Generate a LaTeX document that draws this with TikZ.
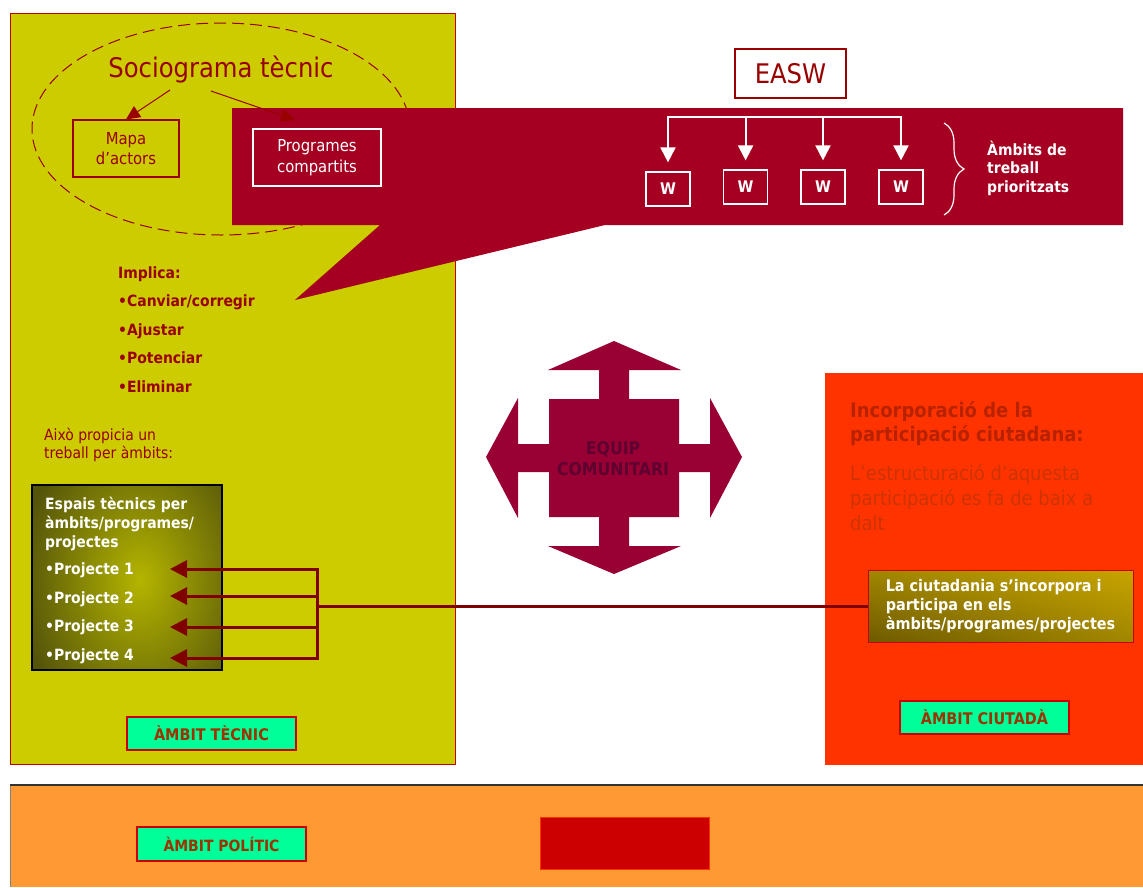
\documentclass[tikz,border=0pt]{standalone}
\usepackage{fontspec}
\setmainfont{DejaVu Sans Condensed}[BoldFont={DejaVu Sans Condensed Bold}]
\usetikzlibrary{arrows.meta,decorations.pathreplacing,shadings}

\definecolor{techyellow}{HTML}{CCCC00}
\definecolor{panelrim}{HTML}{C00000}
\definecolor{wine}{HTML}{A50021}
\definecolor{darkred}{HTML}{990000}
\definecolor{crossred}{HTML}{990033}
\definecolor{crosstext}{HTML}{5E0030}
\definecolor{civicred}{HTML}{FF3300}
\definecolor{civicbold}{HTML}{B82200}
\definecolor{civictext}{HTML}{CC3300}
\definecolor{politicorange}{HTML}{FF9933}
\definecolor{taggreen}{HTML}{00FF99}
\definecolor{tagtext}{HTML}{9C3300}
\definecolor{linkred}{HTML}{800000}
\definecolor{olivedark}{HTML}{55550A}
\definecolor{olivelight}{HTML}{B4B400}
\definecolor{blockred}{HTML}{CC0000}
\definecolor{goldlight}{HTML}{C8A400}
\definecolor{goldmid}{HTML}{A08600}
\definecolor{golddark}{HTML}{6E5A00}

\tikzset{
  txt/.style={inner sep=0pt, align=left, anchor=west},
  framebox/.style={draw=#1, line width=1.2pt, inner sep=0pt, align=center},
  tagbox/.style={draw=blockred, line width=1.5pt, fill=taggreen, text=tagtext,
    font=\bfseries\fontsize{16}{19}\selectfont, minimum width=169pt,
    minimum height=33pt, inner sep=0pt},
  wbox/.style={framebox=white, text=white, font=\bfseries\fontsize{16}{18}\selectfont,
    minimum width=44pt, minimum height=34pt},
  socarrow/.style={darkred, line width=1pt, -{Triangle[width=13pt,length=14pt]}},
  wline/.style={white, line width=2pt},
  warrow/.style={white, line width=2pt, -{Triangle[width=15pt,length=15pt]}, shorten >=9pt},
  linkline/.style={linkred, line width=3pt},
  linkarrow/.style={linkred, line width=3pt, -{Triangle[width=17pt,length=17pt]}},
}

\begin{document}
\begin{tikzpicture}[x=1pt,y=-1pt]
\useasboundingbox (0,0) rectangle (1143,887);
\fill[white] (0,0) rectangle (1143,887);

% ---- panels ----
\draw[draw=panelrim, fill=techyellow, line width=1pt] (10,13) rectangle (455,764);
\fill[civicred] (825,373) rectangle (1143,765);
\fill[politicorange] (10,785) rectangle (1143,887);
\draw[gray, line width=1pt] (10,887) -- (10,785);
\draw[black!80, line width=1.5pt] (10,785) -- (1143,785);

% ---- technical sociogram ----
\draw[darkred, line width=1pt, dash pattern=on 12pt off 6pt]
  (221,129) ellipse [x radius=189, y radius=106];
\node[inner sep=0pt, anchor=base, text=darkred, font=\fontsize{27}{30}\selectfont]
  (socio) at (221,77) {Sociograma tècnic};
\node[framebox=darkred, text=darkred, font=\fontsize{16.5}{20.5}\selectfont,
  minimum width=106pt, minimum height=57pt] (mapa) at (126,148.5) {Mapa\\d’actors};

% ---- speech callout ----
\fill[wine] (232,108) -- (1123,108) -- (1123,225) -- (605,225) -- (295,300)
  -- (380,225) -- (232,225) -- cycle;
\node[framebox=white, text=white, font=\fontsize{16.5}{21}\selectfont,
  minimum width=128pt, minimum height=57pt] (prog) at (317,157.5) {\rule{0pt}{4pt}Programes\\compartits};

\coordinate (s1) at (170,90);
\coordinate (s2) at (211,91);
\coordinate (s2end) at (295,120);
\draw[socarrow] (s1) -- (mapa.north);
\draw[socarrow] (s2) -- (s2end);

% ---- EASW and workshops ----
\node[framebox=darkred, fill=white, text=darkred, font=\fontsize{27}{30}\selectfont,
  minimum width=111pt, minimum height=49pt] (easw) at (790.5,73.5) {EASW};

\node[wbox] (w1) at (668,189) {W};
\node[wbox] (w2) at (745.6,187) {W};
\node[wbox] (w3) at (823,187) {W};
\node[wbox] (w4) at (901,187) {W};
\coordinate (bar) at (0,117);
\draw[wline, line cap=rect] (w1.north |- bar) -- (w4.north |- bar);
\foreach \w in {w1,w2,w3,w4}
  \draw[warrow] (\w.north |- bar) -- (\w.north);

\draw[white, line width=1.2pt, decorate, decoration={brace, amplitude=20pt, aspect=0.5}]
  (944,123) -- (944,215);
\node[txt, text=white, font=\bfseries\fontsize{15.5}{18.5}\selectfont]
  (prior) at (987,168) {Àmbits de\\treball\\prioritzats};

% ---- left panel texts ----
\node[txt, text=darkred, font=\bfseries\fontsize{15.5}{28.5}\selectfont]
  (implica) at (118,329.5) {Implica:\\•Canviar/corregir\\•Ajustar\\•Potenciar\\•Eliminar};
\node[txt, text=darkred, font=\fontsize{15.5}{18.5}\selectfont]
  (aixo) at (44,445) {Això propicia un\\treball per àmbits:};

% ---- technical spaces block ----
\begin{scope}
  \clip (32,485) rectangle (222,670);
  \fill[olivedark] (32,485) rectangle (222,670);
  \shade[inner color=olivelight, outer color=olivedark]
    (140,580) ellipse [x radius=120, y radius=160];
\end{scope}
\node[draw=black, line width=1.2pt, minimum width=190pt, minimum height=185pt,
  inner sep=0pt] (espais) at (127,577.5) {};
\node[txt, text=white, font=\bfseries\fontsize{15.5}{19}\selectfont]
  (espaishead) at (45,524) {Espais tècnics per\\àmbits/programes/\\projectes};
\node[txt, text=white, font=\bfseries\fontsize{15.5}{28.5}\selectfont]
  (projectes) at (45,613.5) {•Projecte 1\\•Projecte 2\\•Projecte 3\\•Projecte 4};

\node[tagbox] (tecnic) at (211.5,733.5) {ÀMBIT TÈCNIC};

% ---- community team cross ----
\fill[crossred] (614,341) -- (681,370) -- (629,370) -- (629,399) -- (679,399)
  -- (679,444) -- (710,444) -- (710,398) -- (742,457) -- (710,518) -- (710,472)
  -- (679,472) -- (679,517) -- (629,517) -- (629,546) -- (681,546) -- (614,574)
  -- (548,546) -- (599,546) -- (599,517) -- (549,517) -- (549,472) -- (518,472)
  -- (518,518) -- (486,457) -- (518,398) -- (518,444) -- (549,444) -- (549,399)
  -- (599,399) -- (599,370) -- (548,370) -- cycle;
\node[inner sep=0pt, align=center, text=crosstext, font=\bfseries\fontsize{17.5}{21}\selectfont]
  (equip) at (613,459) {EQUIP\\COMUNITARI};

% ---- citizen panel ----
\node[txt, text=civicbold, font=\bfseries\fontsize{20}{24}\selectfont]
  (incorp) at (850,423.5) {Incorporació de la\\participació ciutadana:};
\node[txt, text=civictext, font=\fontsize{20}{25}\selectfont]
  (estruct) at (850,498) {L’estructuració d’aquesta\\participació es fa de baix a\\dalt};

\shade[lower left=golddark, upper right=goldlight, upper left=goldmid, lower right=goldmid]
  (868,570) rectangle (1133,642);
\node[draw=blockred, line width=1pt, minimum width=265pt, minimum height=72pt,
  inner sep=0pt, align=left, text=white, font=\bfseries\fontsize{16}{19}\selectfont]
  (ciut) at (1000.5,606) {La ciutadania s’incorpora i\\participa en els\\àmbits/programes/projectes};

\node[tagbox] (ciutada) at (984.5,717.5) {ÀMBIT CIUTADÀ};

% ---- links from citizens to projects ----
\coordinate (hub) at (317,606);
\coordinate (tip1) at (170,569);
\coordinate (tip2) at (170,596);
\coordinate (tip3) at (170,627);
\coordinate (tip4) at (170,658);
\draw[linkline] (ciut.west) -- (ciut.west -| hub);
\draw[linkline, line cap=rect] (hub |- tip1) -- (hub |- tip4);
\foreach \t in {tip1,tip2,tip3,tip4}
  \draw[linkarrow] (hub |- \t) -- (\t);

% ---- political panel ----
\node[tagbox, font=\bfseries\fontsize{15.5}{18}\selectfont, minimum height=34pt]
  (politic) at (221.5,844) {ÀMBIT POLÍTIC};
\node[fill=blockred, draw=civicred, line width=1pt, minimum width=169pt,
  minimum height=52pt, inner sep=0pt] (polbox) at (624.5,843) {};
\end{tikzpicture}
\end{document}
